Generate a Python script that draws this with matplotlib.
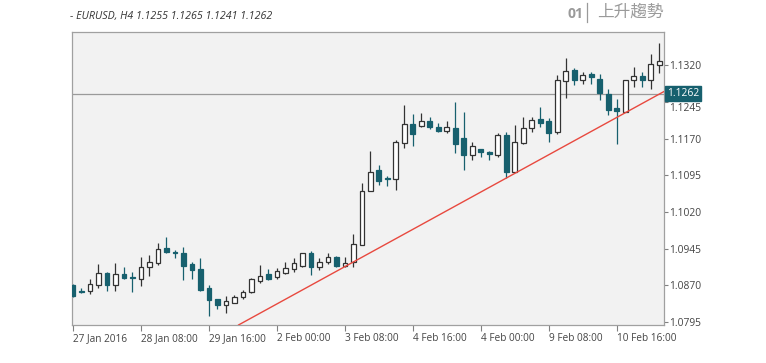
import matplotlib
matplotlib.use("Agg")
import matplotlib.pyplot as plt
import numpy as np

# ---- data (EURUSD H4 candles) ----
opens = [1.0871, 1.0859, 1.0858, 1.0871, 1.0896, 1.0871, 1.0893, 1.0888, 1.0882, 1.0908,
         1.0916, 1.0946, 1.0938, 1.0936, 1.0913, 1.0903, 1.0864, 1.0842, 1.0830, 1.0834,
         1.0847, 1.0856, 1.0879, 1.0893, 1.0888, 1.0896, 1.0903, 1.0910, 1.0936, 1.0907,
         1.0917, 1.0929, 1.0910, 1.0917, 1.0953, 1.1064, 1.1106, 1.1089, 1.1087, 1.1161,
         1.1201, 1.1196, 1.1207, 1.1194, 1.1186, 1.1192, 1.1171, 1.1137, 1.1148, 1.1143,
         1.1137, 1.1177, 1.1102, 1.1161, 1.1191, 1.1210, 1.1206, 1.1184, 1.1287, 1.1310,
         1.1291, 1.1302, 1.1293, 1.1261, 1.1233, 1.1225, 1.1290, 1.1299, 1.1289, 1.1321]
highs = [1.0873, 1.0864, 1.0883, 1.0913, 1.0898, 1.0916, 1.0907, 1.0897, 1.0927, 1.0933,
         1.0956, 1.0968, 1.0942, 1.0949, 1.0917, 1.0925, 1.0871, 1.0843, 1.0848, 1.0850,
         1.0860, 1.0886, 1.0912, 1.0903, 1.0905, 1.0918, 1.0925, 1.0937, 1.0940, 1.0925,
         1.0936, 1.0930, 1.0929, 1.0975, 1.1080, 1.1145, 1.1116, 1.1094, 1.1167, 1.1239,
         1.1220, 1.1222, 1.1215, 1.1203, 1.1206, 1.1246, 1.1225, 1.1164, 1.1149, 1.1145,
         1.1182, 1.1184, 1.1198, 1.1214, 1.1214, 1.1235, 1.1213, 1.1300, 1.1336, 1.1314,
         1.1307, 1.1307, 1.1302, 1.1271, 1.1251, 1.1290, 1.1317, 1.1306, 1.1343, 1.1366]
lows = [1.0846, 1.0854, 1.0852, 1.0865, 1.0859, 1.0858, 1.0884, 1.0857, 1.0869, 1.0890,
        1.0912, 1.0936, 1.0925, 1.0881, 1.0884, 1.0859, 1.0807, 1.0822, 1.0813, 1.0833,
        1.0843, 1.0854, 1.0874, 1.0881, 1.0884, 1.0893, 1.0898, 1.0908, 1.0891, 1.0901,
        1.0914, 1.0908, 1.0907, 1.0908, 1.0952, 1.1063, 1.1075, 1.1073, 1.1066, 1.1150,
        1.1156, 1.1193, 1.1190, 1.1184, 1.1182, 1.1140, 1.1106, 1.1126, 1.1132, 1.1126,
        1.1133, 1.1089, 1.1101, 1.1160, 1.1183, 1.1194, 1.1164, 1.1179, 1.1254, 1.1280,
        1.1281, 1.1281, 1.1249, 1.1218, 1.1159, 1.1224, 1.1276, 1.1276, 1.1271, 1.1304]
closes = [1.0849, 1.0856, 1.0873, 1.0896, 1.0871, 1.0893, 1.0886, 1.0886, 1.0907, 1.0918,
          1.0944, 1.0938, 1.0936, 1.0910, 1.0901, 1.0860, 1.0840, 1.0830, 1.0837, 1.0847,
          1.0857, 1.0882, 1.0890, 1.0884, 1.0899, 1.0905, 1.0915, 1.0936, 1.0908, 1.0918,
          1.0927, 1.0910, 1.0916, 1.0955, 1.1063, 1.1102, 1.1084, 1.1087, 1.1164, 1.1201,
          1.1179, 1.1206, 1.1193, 1.1186, 1.1194, 1.1159, 1.1137, 1.1155, 1.1143, 1.1139,
          1.1177, 1.1102, 1.1164, 1.1192, 1.1208, 1.1203, 1.1182, 1.1289, 1.1309, 1.1289,
          1.1300, 1.1297, 1.1263, 1.1229, 1.1227, 1.1289, 1.1298, 1.1289, 1.1323, 1.1329]

x_tick_idx = [0, 8, 16, 24, 32, 40, 48, 56, 64]
x_tick_labels = ["27 Jan 2016", "28 Jan 08:00", "29 Jan 16:00", "2 Feb 00:00", "3 Feb 08:00",
                 "4 Feb 16:00", "4 Feb 00:00", "9 Feb 08:00", "10 Feb 16:00"]
y_ticks = [1.0795, 1.0870, 1.0945, 1.1020, 1.1095, 1.1170, 1.1245, 1.1320]
current_price = 1.1262
trend_x = [19.5, 69.5]
trend_y = [1.0789, 1.1266]
title_text = "- EURUSD, H4 1.1255 1.1265 1.1241 1.1262"
badge_num = "01"
badge_text = "上升趨勢"

# ---- styling ----
TEAL = "#17606e"
DARK = "#333333"
FONT = ["Open Sans", "DejaVu Sans"]
plt.rcParams["font.family"] = FONT

fig = plt.figure(figsize=(7.66, 3.63), dpi=100)
fig.patch.set_facecolor("white")
ax = fig.add_axes([72 / 766, 38 / 363, (664 - 72) / 766, (325 - 32) / 363])
ax.set_facecolor("#f2f2f2")

o = np.array(opens); h = np.array(highs); l = np.array(lows); c = np.array(closes)
x = np.arange(len(o))
up = c >= o

# wicks
ax.vlines(x[up], l[up], h[up], color=DARK, linewidth=0.9, zorder=2)
ax.vlines(x[~up], l[~up], h[~up], color=TEAL, linewidth=0.9, zorder=2)
# bodies
bw = 0.55
ax.bar(x[up], (c - o)[up], bottom=o[up], width=bw, facecolor="white",
       edgecolor=DARK, linewidth=0.9, zorder=3)
ax.bar(x[~up], (o - c)[~up], bottom=c[~up], width=bw, facecolor=TEAL,
       edgecolor=TEAL, linewidth=0.9, zorder=3)

# current price line & trend line
ax.axhline(current_price, color="#9a9a9a", linewidth=0.9, zorder=1)
ax.plot(trend_x, trend_y, color="#e8493f", linewidth=1.0, zorder=4, clip_on=True)

ax.set_xlim(-0.1, 69.55)
ax.set_ylim(1.07889, 1.13882)

# axes styling
for s in ax.spines.values():
    s.set_color("#a0a0a0")
    s.set_linewidth(0.9)

ax.set_xticks(x_tick_idx)
ax.set_xticklabels(x_tick_labels, ha="left")
ax.tick_params(axis="x", length=4, width=0.8, color="#808080", pad=2,
               labelsize=7.2, labelcolor="#444444")

ax.yaxis.tick_right()
ax.set_yticks(y_ticks)
ax.set_yticklabels([f"{v:.4f}" for v in y_ticks])
ax.tick_params(axis="y", length=3, width=0.8, color="#808080", pad=1,
               labelsize=7.4, labelcolor="#444444")
# nudge the label hidden by the price badge
for lbl in ax.get_yticklabels():
    if lbl.get_text() == "1.1245":
        lbl.set_transform(lbl.get_transform() +
                          matplotlib.transforms.ScaledTranslation(0, -5 / 100, fig.dpi_scale_trans))

# price badge
ax.annotate(f"{current_price:.4f}", xy=(1.0, current_price),
            xycoords=("axes fraction", "data"), xytext=(2, 0), textcoords="offset points",
            ha="left", va="center", fontsize=7.4, color="white", zorder=10,
            bbox=dict(boxstyle="square,pad=0.18", facecolor=TEAL, edgecolor=TEAL),
            annotation_clip=False)

# title & badge text
fig.text(70 / 766, 1 - 17 / 363, title_text, fontsize=7.7, style="italic",
         color="#333333", ha="left", va="center")
fig.text(583 / 766, 1 - 14 / 363, badge_num, fontsize=10, fontweight="bold",
         color="#9a9a9a", ha="right", va="center")
fig.add_artist(matplotlib.lines.Line2D([587 / 766, 587 / 766], [1 - 3 / 363, 1 - 22 / 363],
                                       color="#9a9a9a", linewidth=0.9))
fig.text(597 / 766, 1 - 12 / 363, badge_text, fontsize=12,
         family=["Noto Sans CJK TC", "DejaVu Sans"], color="#9a9a9a",
         ha="left", va="center")

fig.savefig("out.png", dpi=100, facecolor="white")
